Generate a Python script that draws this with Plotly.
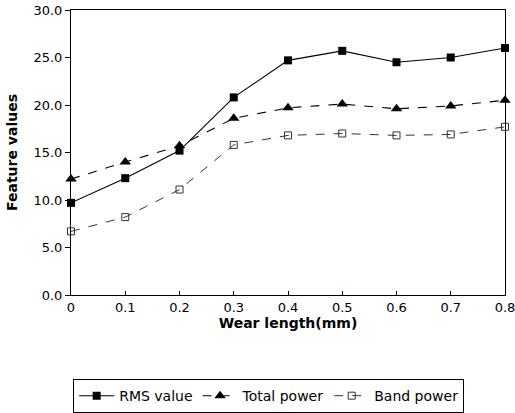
import plotly.graph_objects as go

wear_length = [0, 0.1, 0.2, 0.3, 0.4, 0.5, 0.6, 0.7, 0.8]
rms_value = [9.7, 12.3, 15.2, 20.8, 24.7, 25.7, 24.5, 25.0, 26.0]
total_power = [12.2, 14.0, 15.7, 18.6, 19.7, 20.1, 19.6, 19.9, 20.5]
band_power = [6.7, 8.2, 11.1, 15.8, 16.8, 17.0, 16.8, 16.9, 17.7]

x_ticks = [0, 0.1, 0.2, 0.3, 0.4, 0.5, 0.6, 0.7, 0.8]
x_tick_labels = ["0", "0.1", "0.2", "0.3", "0.4", "0.5", "0.6", "0.7", "0.8"]
y_ticks = [0, 5, 10, 15, 20, 25, 30]
y_tick_labels = ["0.0", "5.0", "10.0", "15.0", "20.0", "25.0", "30.0"]

fig = go.Figure()
fig.add_trace(go.Scatter(
    x=wear_length, y=rms_value, name="RMS value", mode="lines+markers",
    line=dict(color="black", width=1.1, dash="solid"),
    marker=dict(symbol="square", size=8, color="black")))
fig.add_trace(go.Scatter(
    x=wear_length, y=total_power, name="Total power", mode="lines+markers",
    line=dict(color="black", width=1.1, dash="dash"),
    marker=dict(symbol="triangle-up", size=10, color="black")))
fig.add_trace(go.Scatter(
    x=wear_length, y=band_power, name="Band power", mode="lines+markers",
    line=dict(color="#333333", width=1, dash="dash"),
    marker=dict(symbol="square-open", size=7, color="#333333", line=dict(width=1))))

base_font = dict(family="DejaVu Sans, sans-serif", size=13, color="black")
fig.update_layout(
    width=515, height=413,
    margin=dict(l=71, r=10, t=10, b=118, autoexpand=False),
    paper_bgcolor="white", plot_bgcolor="white",
    font=base_font,
    showlegend=True,
    legend=dict(orientation="h", x=0.005, xanchor="left", y=-0.295, yanchor="top",
                bordercolor="black", borderwidth=1, font=dict(size=14),
                itemwidth=35, tracegroupgap=0),
    xaxis=dict(range=[0, 0.8], tickvals=x_ticks, ticktext=x_tick_labels,
               showgrid=False, zeroline=False, showline=True, linecolor="black",
               linewidth=1, mirror=True, ticks="inside", ticklen=4, tickcolor="black",
               automargin=False, ticklabeloverflow="allow",
               title=dict(text="<b>Wear length(mm)</b>", standoff=2, font=dict(size=14))),
    yaxis=dict(range=[0, 30], tickvals=y_ticks, ticktext=y_tick_labels,
               showgrid=False, zeroline=False, showline=True, linecolor="black",
               linewidth=1, mirror=True, ticks="outside", ticklen=5, tickcolor="black",
               automargin=False, ticklabeloverflow="allow",
               title=dict(text="<b>Feature values</b>", standoff=12, font=dict(size=14))),
)
fig.update_traces(cliponaxis=False)

fig.write_html("out.html", config={"displayModeBar": False},
               post_script="document.body.style.margin='0';")
